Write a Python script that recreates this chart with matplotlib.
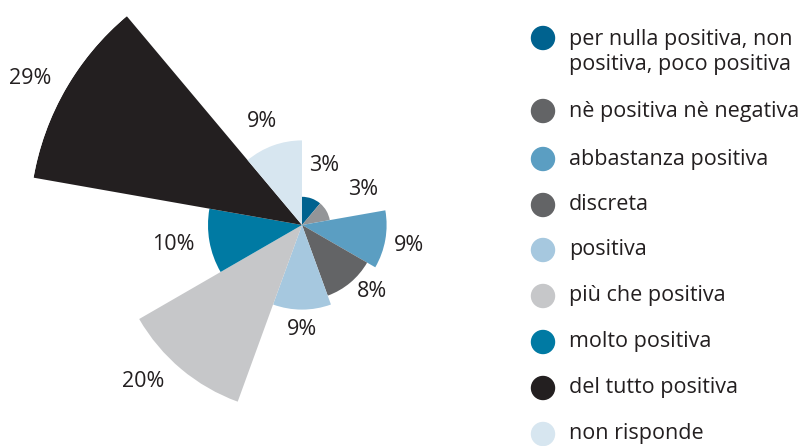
import numpy as np
import matplotlib.pyplot as plt
from matplotlib.patches import Ellipse

categories = ["per nulla positiva, non\npositiva, poco positiva", "nè positiva nè negativa",
              "abbastanza positiva", "discreta", "positiva", "più che positiva",
              "molto positiva", "del tutto positiva", "non risponde"]
values = [3, 3, 9, 8, 9, 20, 10, 29, 9]
labels = ["3%", "3%", "9%", "8%", "9%", "20%", "10%", "29%", "9%"]
colors = ["#00628f", "#939598", "#5b9ec2", "#636466", "#a6c8df",
          "#c6c7c9", "#007aa3", "#231f20", "#d7e6f0"]
legend_colors = ["#00628f", "#636466", "#5b9ec2", "#636466", "#a6c8df",
                 "#c6c7c9", "#007aa3", "#231f20", "#d7e6f0"]

# label placement tweaks: extra radius (in %) and angle shift (deg, clockwise)
label_dr = [3.8, 4.5, 2.6, 2.3, 2.1, 3.7, 3.8, 3.9, 2.8]
label_dtheta = [0.7, 0, 0.6, -6.5, 0, 5.5, 1.3, -1.7, -1.2]

plt.rcParams['font.family'] = ['Open Sans', 'DejaVu Sans']
text_color = "#231f20"

W, H = 798, 446
fig = plt.figure(figsize=(W / 100, H / 100), dpi=100)

# polar axes placed so center sits at (302, 225) px, 9.4 px per percent
cx, cy = 302, 225
rmax = 29
R = rmax * 9.4
ax = fig.add_axes([(cx - R) / W, (H - cy - R) / H, 2 * R / W, 2 * R / H], projection='polar')
ax.set_theta_offset(np.pi / 2)
ax.set_theta_direction(-1)
n = len(values)
width = 2 * np.pi / n
theta = np.arange(n) * width
ax.bar(theta, values, width=width, align='edge', color=colors, linewidth=0)
ax.set_ylim(0, rmax)
ax.set_axis_off()

for t, v, lab, dr, dt in zip(theta, values, labels, label_dr, label_dtheta):
    ax.text(t + width / 2 + np.radians(dt), v + dr, lab, ha='center', va='center',
            fontsize=15.5, color=text_color, clip_on=False)

# legend drawn by hand
ys = [38, 111, 159, 205, 250, 296, 342, 388, 434]
for y, c, name in zip(ys, legend_colors, categories):
    fig.patches.append(Ellipse((543 / W, 1 - y / H), 23 / W, 23 / H, color=c,
                               transform=fig.transFigure, figure=fig))
    yt = y + 14 if '\n' in name else y
    fig.text(569 / W, 1 - yt / H, name, ha='left', va='center',
             fontsize=15.5, color=text_color, linespacing=1.2)

fig.savefig("out.png", dpi=100)
